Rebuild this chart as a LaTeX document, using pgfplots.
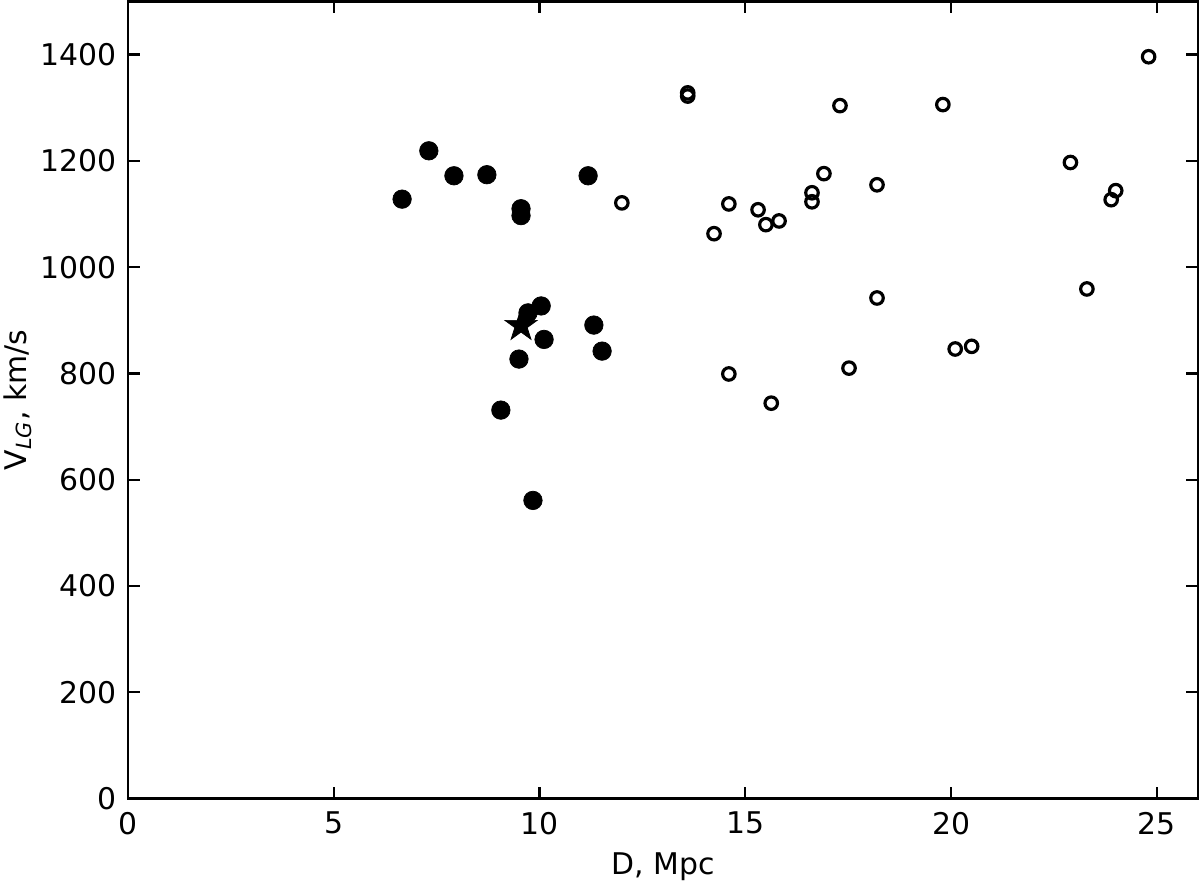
\documentclass[border=0pt]{standalone}
\usepackage{fontspec}
\setmainfont{DejaVu Sans}
\usepackage{pgfplots}
\pgfplotsset{compat=1.18}

% filled five-pointed star
\pgfdeclareplotmark{fstar}{%
  \pgfpathmoveto{\pgfpointpolar{90}{\pgfplotmarksize}}%
  \pgfpathlineto{\pgfpointpolar{126}{0.382\pgfplotmarksize}}%
  \pgfpathlineto{\pgfpointpolar{162}{\pgfplotmarksize}}%
  \pgfpathlineto{\pgfpointpolar{198}{0.382\pgfplotmarksize}}%
  \pgfpathlineto{\pgfpointpolar{234}{\pgfplotmarksize}}%
  \pgfpathlineto{\pgfpointpolar{270}{0.382\pgfplotmarksize}}%
  \pgfpathlineto{\pgfpointpolar{306}{\pgfplotmarksize}}%
  \pgfpathlineto{\pgfpointpolar{342}{0.382\pgfplotmarksize}}%
  \pgfpathlineto{\pgfpointpolar{18}{\pgfplotmarksize}}%
  \pgfpathlineto{\pgfpointpolar{54}{0.382\pgfplotmarksize}}%
  \pgfpathclose
  \pgfusepathqfillstroke
}

\begin{document}
\fontsize{17}{20}\selectfont
\begin{tikzpicture}
\begin{axis}[
    name=ax,
    scale only axis,
    width=21.4cm, height=15.94cm,
    xmin=0, xmax=26, ymin=0, ymax=1500,
    xtick={0,5,...,25}, ytick={0,200,...,1400},
    tick align=inside, tick pos=both,
    major tick length=0.24cm,
    axis line style={line width=1.6pt},
    every tick/.style={line width=1.3pt, black},
    /pgf/number format/assume math mode=true,
    /pgf/number format/1000 sep={},
    tick label style={font=\fontsize{17}{20}\selectfont, inner sep=0pt},
    xticklabel style={anchor=north, yshift=-0.26cm},
    yticklabel style={anchor=east, xshift=-0.22cm},
    xlabel={D, Mpc},
    ylabel={V\textsubscript{\textit{LG}}, km/s},
    label style={font=\fontsize{17}{20}\selectfont, inner sep=0pt},
    xlabel style={at={(axis description cs:0.5,0)}, anchor=base, yshift=-1.52cm},
    ylabel style={at={(axis description cs:0,0.5)}, anchor=center, yshift=2.2cm},
]

% filled: nearby group
\addplot[only marks, mark=*, mark size=0.185cm, black] coordinates {
    (6.66,1128) (7.31,1219) (7.92,1172) (8.72,1174)
    (9.55,1110) (9.55,1097) (11.18,1172)
    (10.04,927) (9.72,914) (10.11,864) (9.50,827)
    (11.32,891) (11.52,842) (9.06,731) (9.84,561)
};

% open circles: background
\addplot[only marks, mark=o, mark size=0.125cm, line width=1.8pt, black] coordinates {
    (12.0,1121) (14.6,1119) (14.24,1063) (15.31,1108) (15.5,1080)
    (15.82,1087) (16.62,1140) (16.62,1123) (16.91,1176) (18.2,1155)
    (18.2,942) (14.6,799) (15.63,744) (17.52,810) (13.6,1328)
    (13.6,1322) (17.3,1304) (19.8,1306) (24.8,1396) (22.9,1197)
    (24.0,1144) (23.89,1127) (23.3,959) (20.1,846) (20.5,851)
};

% star
\addplot[only marks, mark=fstar, mark size=0.34cm, black] coordinates {
    (9.55,890)
};

\end{axis}
\pgfresetboundingbox
\path[use as bounding box] ([xshift=-2.56cm,yshift=-1.64cm]ax.south west)
    rectangle ([xshift=0.04cm,yshift=0.03cm]ax.north east);
\end{tikzpicture}
\end{document}
